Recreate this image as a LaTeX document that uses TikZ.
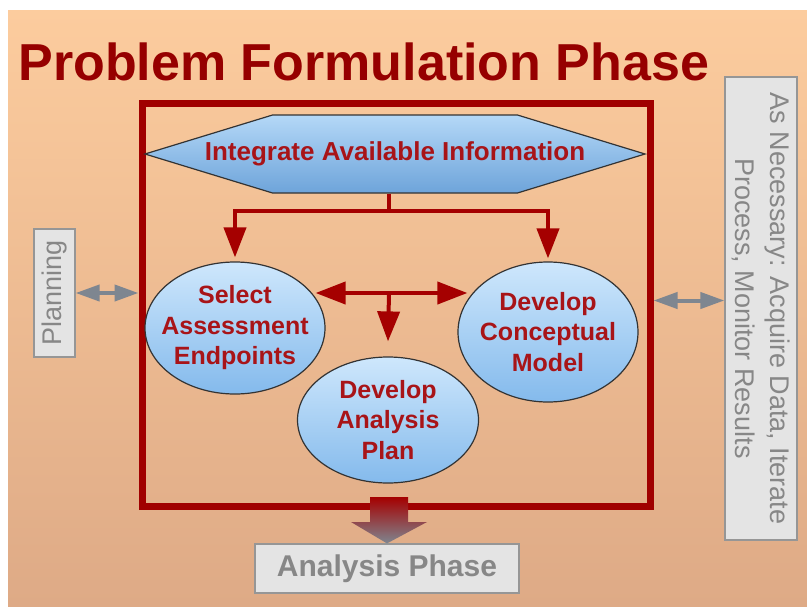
\documentclass[tikz,border=0pt]{standalone}
\usepackage{fontspec}
\setmainfont{Liberation Sans}
\usepackage{xcolor}
\usetikzlibrary{arrows.meta,shapes.geometric,shapes.symbols}

\definecolor{bgtop}{RGB}{252,204,158}
\definecolor{bgbot}{RGB}{222,170,134}
\definecolor{titlered}{RGB}{150,0,0}
\definecolor{textred}{RGB}{168,20,24}
\definecolor{arrowred}{RGB}{165,0,0}
\definecolor{framered}{RGB}{160,0,0}
\definecolor{bluetop}{RGB}{206,231,252}
\definecolor{bluebot}{RGB}{132,186,236}
\definecolor{hextop}{RGB}{180,216,247}
\definecolor{hexbot}{RGB}{110,164,218}
\definecolor{boxfill}{RGB}{228,228,228}
\definecolor{boxline}{RGB}{150,150,150}
\definecolor{boxtext}{RGB}{135,135,135}
\definecolor{arrowgray}{RGB}{126,134,144}

\begin{document}
\begin{tikzpicture}[x=1pt,y=-1pt,
  bubble/.style={ellipse,draw=black!80,line width=1.2pt,top color=bluetop,bottom color=bluebot,
    text=textred,font=\fontsize{25}{30.5}\selectfont\bfseries,align=center,inner sep=-15pt},
  redarrow/.style={-{Triangle[length=30pt,width=22pt]},draw=arrowred,line width=4pt},
  grayarrow/.style={{Triangle[length=24pt,width=16pt]}-{Triangle[length=24pt,width=16pt]},draw=arrowgray,line width=4pt},
  graybox/.style={draw=boxline,fill=boxfill,line width=1.2pt,text=boxtext,inner sep=0pt}]
\useasboundingbox (0,0) rectangle (807,606);
\shade[top color=bgtop,bottom color=bgbot] (8,10) rectangle (807,606);

\node[anchor=base west,text=titlered,font=\fontsize{52}{52}\selectfont\bfseries] (title) at (15,80) {Problem Formulation Phase};
\node[draw=framered,line width=7pt,minimum width=508pt,minimum height=403pt,inner sep=0pt] (frame) at (396,304.5) {};

\node[signal,signal to=east and west,signal pointer angle=34,draw=black!80,line width=1.2pt,
  top color=hextop,bottom color=hexbot,minimum width=500pt,minimum height=78pt,inner sep=0pt,
  text=textred,font=\fontsize{26}{26}\selectfont\bfseries] (info) at (395,154) {\makebox[0pt]{Integrate Available Information}};

\node[bubble,minimum width=180pt,minimum height=132pt] (select) at (235,328) {Select\\Assessment\\Endpoints};
\node[bubble,minimum width=180pt,minimum height=140pt] (concept) at (548,332) {Develop\\Conceptual\\Model};
\node[bubble,minimum width=181pt,minimum height=126pt] (design) at (388,420) {Develop\\Analysis\\Plan};

% arrows inside the frame
\coordinate (fork) at (389,211);
\coordinate (hub) at (389,293);
\draw[arrowred,line width=4pt] (info.south -| fork) -- (fork);
\draw[redarrow] (fork) -| ([yshift=4pt]select.north);
\draw[redarrow] (fork) -| ([yshift=3pt]concept.north);
\draw[redarrow] (hub) -- ([xshift=-10pt]hub -| select.east);
\draw[redarrow] (hub) -- ([xshift=10pt]hub -| concept.west);
\draw[redarrow] (hub) -- ([yshift=15pt]design.north);

\node[graybox,rotate=90,minimum width=128pt,minimum height=41pt,font=\fontsize{27}{27}\selectfont] (plan) at (54.5,293) {Planning};
\node[graybox,rotate=-90,minimum width=463pt,minimum height=72pt,align=center,font=\fontsize{27}{35}\selectfont] (necessary) at (761,308.5) {As Necessary: Acquire Data, Iterate\\Process, Monitor Results};
\node[graybox,minimum width=264pt,minimum height=49pt,font=\fontsize{30}{30}\selectfont\bfseries] (next) at (387,568.5) {Analysis Phase};

\draw[grayarrow] (plan.south) -- (plan.south -| frame.west);
\draw[grayarrow] ([yshift=8pt]necessary.south -| frame.east) -- ([yshift=8pt]necessary.south);

% block arrow down to the next phase
\shade[top color=arrowred,bottom color=arrowgray] (370,497) -- (408,497) -- (408,522) -- (427,522)
  -- (next.north) -- (351,522) -- (370,522) -- cycle;
\end{tikzpicture}
\end{document}
